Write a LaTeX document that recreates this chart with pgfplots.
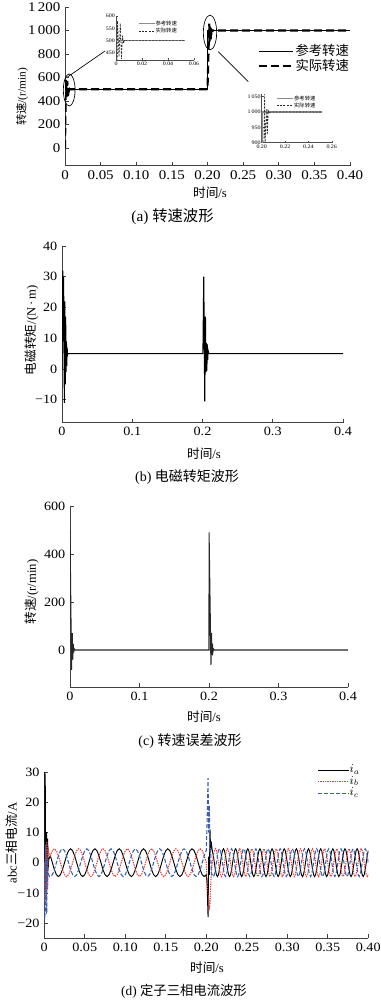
\documentclass[border=0pt]{standalone}
\usepackage{pgfplots}
\pgfplotsset{compat=1.18}
\usepackage{pgfplotstable}
\usepackage{fontspec}
\setmainfont{Liberation Serif}
\newfontfamily\tickfont{Liberation Serif}[FakeStretch=1.12]
\newfontfamily\cjk{Noto Sans CJK SC}
\definecolor{ibred}{RGB}{225,60,55}
\definecolor{icblue}{RGB}{60,95,175}
\pgfplotstableread{
t ia ib ic
0 0 0 0
0.0004 30 -11 -19
0.0012 29 -13 -16
0.0018 -10 4 6
0.0024 10 -12 2
0.0030 10 7 -17
0.0036 -6 6 0
0.0042 8 -9 1
0.0048 -2 5 -3
0.0055 1 3 -4
0.0065 1.8 2.8 -4.6
0.0075 2.3 2.3 -4.6
0.0100 0 3.98 -3.98
0.0125 -2.3 4.6 -2.3
0.0150 -3.98 3.98 0
0.0175 -4.6 2.3 2.3
0.0200 -3.98 0 3.98
0.0225 -2.3 -2.3 4.6
0.0250 0 -3.98 3.98
0.0275 2.3 -4.6 2.3
0.0300 3.98 -3.98 0
0.0325 4.6 -2.3 -2.3
0.0350 3.98 0 -3.98
0.0375 2.3 2.3 -4.6
0.0400 0 3.98 -3.98
0.0425 -2.3 4.6 -2.3
0.0450 -3.98 3.98 0
0.0475 -4.6 2.3 2.3
0.0500 -3.98 0 3.98
0.0525 -2.3 -2.3 4.6
0.0550 0 -3.98 3.98
0.0575 2.3 -4.6 2.3
0.0600 3.98 -3.98 0
0.0625 4.6 -2.3 -2.3
0.0650 3.98 0 -3.98
0.0675 2.3 2.3 -4.6
0.0700 0 3.98 -3.98
0.0725 -2.3 4.6 -2.3
0.0750 -3.98 3.98 0
0.0775 -4.6 2.3 2.3
0.0800 -3.98 0 3.98
0.0825 -2.3 -2.3 4.6
0.0850 0 -3.98 3.98
0.0875 2.3 -4.6 2.3
0.0900 3.98 -3.98 0
0.0925 4.6 -2.3 -2.3
0.0950 3.98 0 -3.98
0.0975 2.3 2.3 -4.6
0.1000 0 3.98 -3.98
0.1025 -2.3 4.6 -2.3
0.1050 -3.98 3.98 0
0.1075 -4.6 2.3 2.3
0.1100 -3.98 0 3.98
0.1125 -2.3 -2.3 4.6
0.1150 0 -3.98 3.98
0.1175 2.3 -4.6 2.3
0.1200 3.98 -3.98 0
0.1225 4.6 -2.3 -2.3
0.1250 3.98 0 -3.98
0.1275 2.3 2.3 -4.6
0.1300 0 3.98 -3.98
0.1325 -2.3 4.6 -2.3
0.1350 -3.98 3.98 0
0.1375 -4.6 2.3 2.3
0.1400 -3.98 0 3.98
0.1425 -2.3 -2.3 4.6
0.1450 0 -3.98 3.98
0.1475 2.3 -4.6 2.3
0.1500 3.98 -3.98 0
0.1525 4.6 -2.3 -2.3
0.1550 3.98 0 -3.98
0.1575 2.3 2.3 -4.6
0.1600 0 3.98 -3.98
0.1625 -2.3 4.6 -2.3
0.1650 -3.98 3.98 0
0.1675 -4.6 2.3 2.3
0.1700 -3.98 0 3.98
0.1725 -2.3 -2.3 4.6
0.1750 0 -3.98 3.98
0.1775 2.3 -4.6 2.3
0.1800 3.98 -3.98 0
0.1825 4.6 -2.3 -2.3
0.1850 3.98 0 -3.98
0.1875 2.3 2.3 -4.6
0.1900 0 3.98 -3.98
0.1925 -2.3 4.6 -2.3
0.1950 -3.98 3.98 0
0.1975 -4.6 2.3 2.3
0.2000 -3.98 0 3.98
0.2010 -7 -6 13
0.2022 -18 -10 28
0.2030 2 -12 10
0.2038 -4 -15 19
0.2046 11 -14 3
0.2054 4 -8 4
0.2062 7 -4 -3
0.2069 5 -1 -4
0.2075 3.98 0 -3.98
0.20875 2.3 2.3 -4.6
0.21 0 3.98 -3.98
0.21125 -2.3 4.6 -2.3
0.2125 -3.98 3.98 0
0.21375 -4.6 2.3 2.3
0.215 -3.98 0 3.98
0.21625 -2.3 -2.3 4.6
0.2175 0 -3.98 3.98
0.21875 2.3 -4.6 2.3
0.22 3.98 -3.98 0
0.22125 4.6 -2.3 -2.3
0.2225 3.98 0 -3.98
0.22375 2.3 2.3 -4.6
0.225 0 3.98 -3.98
0.22625 -2.3 4.6 -2.3
0.2275 -3.98 3.98 0
0.22875 -4.6 2.3 2.3
0.23 -3.98 0 3.98
0.23125 -2.3 -2.3 4.6
0.2325 0 -3.98 3.98
0.23375 2.3 -4.6 2.3
0.235 3.98 -3.98 0
0.23625 4.6 -2.3 -2.3
0.2375 3.98 0 -3.98
0.23875 2.3 2.3 -4.6
0.24 0 3.98 -3.98
0.24125 -2.3 4.6 -2.3
0.2425 -3.98 3.98 0
0.24375 -4.6 2.3 2.3
0.245 -3.98 0 3.98
0.24625 -2.3 -2.3 4.6
0.2475 0 -3.98 3.98
0.24875 2.3 -4.6 2.3
0.25 3.98 -3.98 0
0.25125 4.6 -2.3 -2.3
0.2525 3.98 0 -3.98
0.25375 2.3 2.3 -4.6
0.255 0 3.98 -3.98
0.25625 -2.3 4.6 -2.3
0.2575 -3.98 3.98 0
0.25875 -4.6 2.3 2.3
0.26 -3.98 0 3.98
0.26125 -2.3 -2.3 4.6
0.2625 0 -3.98 3.98
0.26375 2.3 -4.6 2.3
0.265 3.98 -3.98 0
0.26625 4.6 -2.3 -2.3
0.2675 3.98 0 -3.98
0.26875 2.3 2.3 -4.6
0.27 0 3.98 -3.98
0.27125 -2.3 4.6 -2.3
0.2725 -3.98 3.98 0
0.27375 -4.6 2.3 2.3
0.275 -3.98 0 3.98
0.27625 -2.3 -2.3 4.6
0.2775 0 -3.98 3.98
0.27875 2.3 -4.6 2.3
0.28 3.98 -3.98 0
0.28125 4.6 -2.3 -2.3
0.2825 3.98 0 -3.98
0.28375 2.3 2.3 -4.6
0.285 0 3.98 -3.98
0.28625 -2.3 4.6 -2.3
0.2875 -3.98 3.98 0
0.28875 -4.6 2.3 2.3
0.29 -3.98 0 3.98
0.29125 -2.3 -2.3 4.6
0.2925 0 -3.98 3.98
0.29375 2.3 -4.6 2.3
0.295 3.98 -3.98 0
0.29625 4.6 -2.3 -2.3
0.2975 3.98 0 -3.98
0.29875 2.3 2.3 -4.6
0.3 0 3.98 -3.98
0.30125 -2.3 4.6 -2.3
0.3025 -3.98 3.98 0
0.30375 -4.6 2.3 2.3
0.305 -3.98 0 3.98
0.30625 -2.3 -2.3 4.6
0.3075 0 -3.98 3.98
0.30875 2.3 -4.6 2.3
0.31 3.98 -3.98 0
0.31125 4.6 -2.3 -2.3
0.3125 3.98 0 -3.98
0.31375 2.3 2.3 -4.6
0.315 0 3.98 -3.98
0.31625 -2.3 4.6 -2.3
0.3175 -3.98 3.98 0
0.31875 -4.6 2.3 2.3
0.32 -3.98 0 3.98
0.32125 -2.3 -2.3 4.6
0.3225 0 -3.98 3.98
0.32375 2.3 -4.6 2.3
0.325 3.98 -3.98 0
0.32625 4.6 -2.3 -2.3
0.3275 3.98 0 -3.98
0.32875 2.3 2.3 -4.6
0.33 0 3.98 -3.98
0.33125 -2.3 4.6 -2.3
0.3325 -3.98 3.98 0
0.33375 -4.6 2.3 2.3
0.335 -3.98 0 3.98
0.33625 -2.3 -2.3 4.6
0.3375 0 -3.98 3.98
0.33875 2.3 -4.6 2.3
0.34 3.98 -3.98 0
0.34125 4.6 -2.3 -2.3
0.3425 3.98 0 -3.98
0.34375 2.3 2.3 -4.6
0.345 0 3.98 -3.98
0.34625 -2.3 4.6 -2.3
0.3475 -3.98 3.98 0
0.34875 -4.6 2.3 2.3
0.35 -3.98 0 3.98
0.35125 -2.3 -2.3 4.6
0.3525 0 -3.98 3.98
0.35375 2.3 -4.6 2.3
0.355 3.98 -3.98 0
0.35625 4.6 -2.3 -2.3
0.3575 3.98 0 -3.98
0.35875 2.3 2.3 -4.6
0.36 0 3.98 -3.98
0.36125 -2.3 4.6 -2.3
0.3625 -3.98 3.98 0
0.36375 -4.6 2.3 2.3
0.365 -3.98 0 3.98
0.36625 -2.3 -2.3 4.6
0.3675 0 -3.98 3.98
0.36875 2.3 -4.6 2.3
0.37 3.98 -3.98 0
0.37125 4.6 -2.3 -2.3
0.3725 3.98 0 -3.98
0.37375 2.3 2.3 -4.6
0.375 0 3.98 -3.98
0.37625 -2.3 4.6 -2.3
0.3775 -3.98 3.98 0
0.37875 -4.6 2.3 2.3
0.38 -3.98 0 3.98
0.38125 -2.3 -2.3 4.6
0.3825 0 -3.98 3.98
0.38375 2.3 -4.6 2.3
0.385 3.98 -3.98 0
0.38625 4.6 -2.3 -2.3
0.3875 3.98 0 -3.98
0.38875 2.3 2.3 -4.6
0.39 0 3.98 -3.98
0.39125 -2.3 4.6 -2.3
0.3925 -3.98 3.98 0
0.39375 -4.6 2.3 2.3
0.395 -3.98 0 3.98
0.39625 -2.3 -2.3 4.6
0.3975 0 -3.98 3.98
0.39875 2.3 -4.6 2.3
0.4 3.98 -3.98 0
}\currents
\pgfplotsset{
  base/.style={scale only axis, anchor=south west, axis lines=left,
    axis line style={-, black!75, line width=0.6pt},
    scaled ticks=false,
    tick align=inside, major tick length=3pt,
    tick style={black!75, line width=0.5pt}},
  inset/.style={scale only axis, anchor=south west, axis lines=left,
    axis line style={-, black!70, line width=0.4pt},
    scaled ticks=false,
    tick align=inside, major tick length=1.5pt,
    tick style={black!70, line width=0.3pt},
    tick label style={font=\tickfont\fontsize{4}{4.5}\selectfont, inner sep=0.7pt},
    legend style={draw=none, fill=none, font=\cjk\fontsize{4}{4.5}\selectfont,
      inner sep=0pt, row sep=0.6pt, nodes={inner sep=0.4pt, text height=3.2pt, text depth=0.8pt}},
    legend cell align=left,
    legend image code/.code={\draw[##1] (0pt,0pt) -- (12pt,0pt);}},
}
\begin{document}
\begin{tikzpicture}
\useasboundingbox (0,0) rectangle (285pt,750pt);
% (a)
\begin{axis}[base, at={(48.75pt,625.8pt)}, width=213.75pt, height=118.95pt,
  xmin=0, xmax=0.4, ymin=-150, ymax=1200,
  xtick={0,0.05,0.1,0.15,0.2,0.25,0.3,0.35,0.4},
  xticklabels={0,0.05,0.10,0.15,0.20,0.25,0.30,0.35,0.40},
  ytick={0,200,400,600,800,1000,1200},
  yticklabels={0,200,400,600,800,1\,000,1\,200},
  tick label style={font=\tickfont\fontsize{10}{12}\selectfont},
  legend style={draw=none, fill=none, at={(0.675,0.765)}, anchor=north west,
    font=\cjk\fontsize{10}{12}\selectfont, inner sep=0pt, row sep=0.5pt,
    nodes={inner sep=0.8pt, text height=7.5pt, text depth=1.5pt}},
  legend cell align=left,
  legend image code/.code={\draw[#1] (0pt,0pt) -- (26pt,0pt);}]
\addplot[black, line width=0.8pt] coordinates {(0,500)(0.2,500)(0.2,1000)(0.4,1000)};
\addlegendentry{参考转速}
\addplot[black, line width=1.6pt, dash pattern=on 6pt off 3pt] coordinates {(0,0)(0.0012,580)(0.0023,435)(0.0033,570)(0.0042,425)(0.0050,520)(0.0058,490)(0.0066,503)(0.0075,500)(0.2,500)(0.2025,1058)(0.2029,902)(0.2044,1012)(0.2048,925)(0.2056,1004)(0.2064,996)(0.2075,1000)(0.4,1000)};
\addlegendentry{实际转速}
\end{axis}
% inset 1
\begin{axis}[inset, at={(87pt,704.7pt)}, width=58.5pt, height=33.3pt,
  xmin=0, xmax=0.06, ymin=420, ymax=600,
  xtick={0,0.02,0.04,0.06}, xticklabels={0,0.02,0.04,0.06},
  ytick={450,500,550,600}, yticklabels={450,500,550,600},
  legend style={at={(0.28,0.9)}, anchor=north west}]
\addplot[black!45, line width=0.7pt] coordinates {(0,500)(0.053,500)};
\addlegendentry{参考转速}
\addplot[black!85, line width=0.5pt, dash pattern=on 1.5pt off 1pt] coordinates {(0,0)(0.0012,580)(0.0023,435)(0.0033,570)(0.0042,425)(0.0050,520)(0.0058,490)(0.0066,503)(0.0075,500)(0.053,500)};
\addlegendentry{实际转速}
\end{axis}
% inset 2
\begin{axis}[inset, at={(196.3pt,643pt)}, width=52.5pt, height=36.8pt,
  xmin=0.2, xmax=0.26, ymin=900, ymax=1060,
  xtick={0.2,0.22,0.24,0.26}, xticklabels={0.20,0.22,0.24,0.26},
  ytick={900,950,1000,1050}, yticklabels={900,950,1\,000,1\,050},
  xticklabel style={yshift=-0.8pt},
  legend style={at={(0.2,0.97)}, anchor=north west}]
\addplot[black!45, line width=1.2pt] coordinates {(0.2,500)(0.2,1000)(0.252,1000)};
\addlegendentry{参考转速}
\addplot[black!85, line width=0.5pt, dash pattern=on 1.5pt off 1pt] coordinates {(0.2,500)(0.2025,1058)(0.2029,902)(0.2044,1012)(0.2048,925)(0.2056,1004)(0.2064,996)(0.2075,1000)(0.252,1000)};
\addlegendentry{实际转速}
\end{axis}
\draw[black, line width=0.5pt] (51.9pt,682.5pt) ellipse [x radius=4.4pt, y radius=12pt];
\draw[black, line width=0.5pt] (157.5pt,725.6pt) ellipse [x radius=5pt, y radius=13pt];
\draw[black, line width=0.5pt] (50.6pt,692.25pt) -- (78.75pt,711.75pt);
\draw[black, line width=0.5pt] (163.7pt,711.2pt) -- (186.2pt,688.7pt);
\node[rotate=90, font=\fontsize{8.5}{10}\selectfont] at (16.5pt,677.25pt) {{\cjk 转速}/(r/min)};
\node[font=\fontsize{9.5}{11}\selectfont] at (157.5pt,605.25pt) {{\cjk 时间}/s};
\node[font=\fontsize{11.5}{13}\selectfont] at (129.4pt,587.25pt) {(a) {\cjk 转速波形}};
% (b)
\begin{axis}[base, at={(46.5pt,432.9pt)}, width=210.75pt, height=132.6pt,
  xmin=0, xmax=0.4, ymin=-17.5, ymax=40,
  xtick={0,0.1,0.2,0.3,0.4}, xticklabels={0,0.1,0.2,0.3,0.4},
  ytick={-10,0,10,20,30,40}, yticklabels={−10,0,10,20,30,40},
  tick label style={font=\tickfont\fontsize{9.5}{11}\selectfont}]
\addplot[black, line width=0.8pt] coordinates {(0,0)(0.0004,31)(0.0009,12)(0.0013,32)(0.0018,9)(0.0023,30)(0.0028,8)(0.0034,-11)(0.0040,22)(0.0046,-5)(0.0052,17)(0.0058,-1)(0.0063,9)(0.0068,1)(0.0073,7)(0.0078,4.5)(0.0085,5)(0.2,5)(0.2006,5)(0.2018,30)(0.2032,-10.5)(0.2042,17)(0.2050,-1)(0.2056,8.5)(0.2062,-0.5)(0.2068,8)(0.2074,3)(0.2080,6)(0.2090,5)(0.4,5)};
\end{axis}
\node[rotate=90, font=\fontsize{9.5}{11}\selectfont] at (23.8pt,502.5pt) {{\cjk 电磁转矩}/(N\,·\,m)};
\node[font=\fontsize{9.5}{11}\selectfont] at (153pt,409.5pt) {{\cjk 时间}/s};
\node[font=\fontsize{10.5}{12}\selectfont] at (140.25pt,392pt) {(b) {\cjk 电磁转矩波形}};
% (c)
\begin{axis}[base, at={(52.5pt,234.6pt)}, width=208.5pt, height=135.9pt,
  xmin=0, xmax=0.4, ymin=-155, ymax=600,
  xtick={0,0.1,0.2,0.3,0.4}, xticklabels={0,0.1,0.2,0.3,0.4},
  ytick={0,200,400,600}, yticklabels={0,200,400,600},
  tick label style={font=\tickfont\fontsize{9.5}{11}\selectfont}]
\addplot[black!85, line width=0.8pt] coordinates {(0,500)(0.0022,-83)(0.0032,70)(0.0040,-40)(0.0047,25)(0.0054,-10)(0.0060,5)(0.0070,0)(0.2,0)(0.2001,490)(0.2028,-62)(0.2036,70)(0.2043,-20)(0.2050,25)(0.2057,-8)(0.2065,4)(0.2075,0)(0.4,0)};
\end{axis}
\node[rotate=90, font=\fontsize{9.5}{11}\selectfont] at (24pt,306pt) {{\cjk 转速}/(r/min)};
\node[font=\fontsize{9.5}{11}\selectfont] at (153pt,212.5pt) {{\cjk 时间}/s};
\node[font=\fontsize{10.5}{12}\selectfont] at (142.5pt,194.25pt) {(c) {\cjk 转速误差波形}};
% (d)
\begin{axis}[base, at={(33.2pt,46.4pt)}, width=243pt, height=124.5pt,
  xmin=0, xmax=0.4, ymin=-25, ymax=30,
  xtick={0,0.05,0.1,0.15,0.2,0.25,0.3,0.35,0.4},
  xticklabels={0,0.05,0.10,0.15,0.20,0.25,0.30,0.35,0.40},
  ytick={-20,-10,0,10,20,30}, yticklabels={−20,−10,0,10,20,30},
  tick label style={font=\tickfont\fontsize{9.5}{11}\selectfont},
  legend style={draw=none, fill=none, at={(0.842,1.045)}, anchor=north west,
    font=\fontsize{9}{10}\selectfont, inner sep=0pt, row sep=0.3pt,
    nodes={inner sep=0.5pt, text height=5.5pt, text depth=1.8pt}},
  legend cell align=left,
  legend image code/.code={\draw[#1] (0pt,0pt) -- (23pt,0pt);}]
\addplot[black, line width=0.7pt] table[x=t, y=ia] {\currents};
\addlegendentry{$i_a$}
\addplot[ibred, line width=0.8pt, dash pattern=on 1pt off 0.8pt] table[x=t, y=ib] {\currents};
\addlegendentry{$i_b$}
\addplot[icblue, line width=0.8pt, dash pattern=on 3pt off 1.5pt] table[x=t, y=ic] {\currents};
\addlegendentry{$i_c$}
\end{axis}
\node[rotate=90, font=\fontsize{9.5}{11}\selectfont] at (8.8pt,117.75pt) {abc{\cjk 三相电流}/A};
\node[font=\fontsize{9.5}{11}\selectfont] at (155.25pt,24.2pt) {{\cjk 时间}/s};
\node[font=\fontsize{10}{12}\selectfont] at (138pt,6.2pt) {(d) {\cjk 定子三相电流波形}};
\end{tikzpicture}
\end{document}
